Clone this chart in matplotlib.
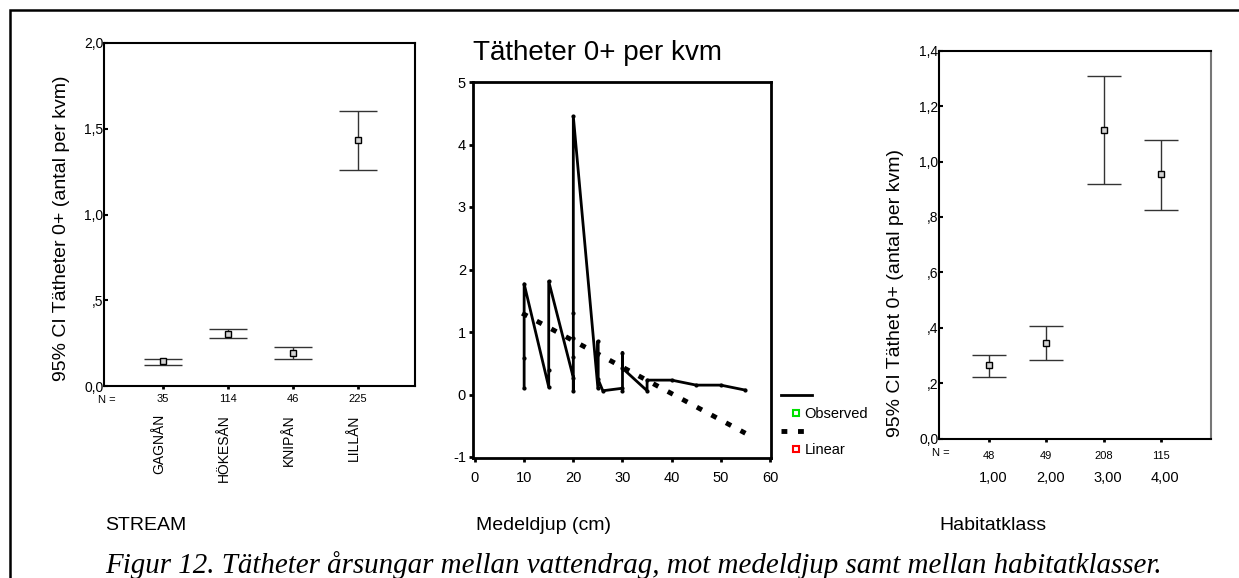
import matplotlib
matplotlib.use("Agg")
import matplotlib.pyplot as plt
import matplotlib.transforms as mtransforms
from matplotlib.lines import Line2D
from matplotlib.patches import Rectangle

plt.rcParams["font.family"] = ["Liberation Sans", "DejaVu Sans"]
plt.rcParams["axes.unicode_minus"] = False

W, H = 1239, 578

# left panel: 95% CI per stream
STREAMS = ["GAGNÅN", "HÖKESÅN", "KNIPÅN", "LILLÅN"]
STREAM_N = [35, 114, 46, 225]
STREAM_MEAN = [0.145, 0.303, 0.194, 1.434]
STREAM_LO = [0.125, 0.278, 0.159, 1.261]
STREAM_HI = [0.160, 0.332, 0.227, 1.605]
STREAM_YTICKS = [0.0, 0.5, 1.0, 1.5, 2.0]
STREAM_YLABELS = ["0,0", ",5", "1,0", "1,5", "2,0"]

# middle panel: observed density vs mean depth, with linear fit
DEPTH_OBS = [10, 10, 10, 15, 15, 15, 20, 20, 20, 20, 20, 20,
             25, 25, 25, 26, 30, 30, 30, 30, 35, 35, 40, 45, 50, 55]
DENS_OBS = [0.10, 0.58, 1.77, 0.12, 0.40, 1.81, 0.27, 0.05, 0.60, 0.90, 1.30, 4.45,
            0.10, 0.85, 0.25, 0.06, 0.10, 0.05, 0.67, 0.42, 0.06, 0.23, 0.23, 0.15, 0.15, 0.07]
DEPTH_LIN = [9.6, 55]
DENS_LIN = [1.30, -0.62]
DEPTH_TICKS = [0, 10, 20, 30, 40, 50, 60]
DENS_TICKS = [-1, 0, 1, 2, 3, 4, 5]

# right panel: 95% CI per habitat class
HABITAT = ["1,00", "2,00", "3,00", "4,00"]
HAB_N = [48, 49, 208, 115]
HAB_MEAN = [0.266, 0.345, 1.113, 0.955]
HAB_LO = [0.224, 0.285, 0.920, 0.826]
HAB_HI = [0.303, 0.408, 1.309, 1.077]
HAB_YTICKS = [0.0, 0.2, 0.4, 0.6, 0.8, 1.0, 1.2, 1.4]
HAB_YLABELS = ["0,0", ",2", ",4", ",6", ",8", "1,0", "1,2", "1,4"]


def box(x0, y0, x1, y1):
    """pixel box (top-left origin) -> figure fraction rect"""
    return [x0 / W, 1 - y1 / H, (x1 - x0) / W, (y1 - y0) / H]


def fx(x):
    return x / W


def fy(y):
    return 1 - y / H


def ci_panel(ax, means, lo, hi, capsize):
    pos = list(range(1, len(means) + 1))
    err = [[m - l for m, l in zip(means, lo)], [h - m for m, h in zip(means, hi)]]
    ax.errorbar(pos, means, yerr=err, fmt="s", ms=5, mfc="#d4d4d4", mec="black",
                mew=1.0, ecolor="#333333", elinewidth=1.0, capsize=capsize,
                capthick=1.6, zorder=3)
    for s in ax.spines.values():
        s.set_linewidth(1.5)
    ax.tick_params(axis="y", direction="in", length=3, width=1.5, pad=0.5, labelsize=10)
    ax.tick_params(axis="x", direction="out", length=2, width=2, pad=4, labelsize=8)


fig = plt.figure(figsize=(W / 100, H / 100), dpi=100)

# ---- left panel
ax1 = fig.add_axes(box(104, 43, 414.5, 386))
ci_panel(ax1, STREAM_MEAN, STREAM_LO, STREAM_HI, 13.7)
ax1.set_xlim(0.09, 4.87)
ax1.set_ylim(0, 2.0)
ax1.set_yticks(STREAM_YTICKS)
ax1.set_yticklabels(STREAM_YLABELS)
ax1.set_xticks(range(1, 5))
ax1.set_xticklabels([str(n) for n in STREAM_N])
tr1 = mtransforms.blended_transform_factory(ax1.transData, ax1.transAxes)
for i, name in enumerate(STREAMS):
    ax1.text(i + 1 - 0.06, -0.082, name, rotation=90, ha="center", va="top",
             fontsize=10, transform=tr1)
fig.text(fx(98), fy(400), "N =", fontsize=8, va="center")
fig.text(fx(62), fy(228), "95% CI Tätheter 0+ (antal per kvm)", rotation=90,
         ha="center", va="center", fontsize=14)
fig.text(fx(105), fy(530), "STREAM", fontsize=14, va="baseline")

# ---- middle panel
ax2 = fig.add_axes(box(473, 82, 771, 458))
ax2.plot(DEPTH_OBS, DENS_OBS, color="black", lw=2, marker="o", ms=2, zorder=3)
ax2.plot(DEPTH_LIN, DENS_LIN, color="black", lw=3.5, ls=(0, (1.2, 2.2)),
         dash_capstyle="butt", zorder=2)
ax2.set_xlim(-0.4, 60.2)
ax2.set_ylim(-1.016, 5)
ax2.set_xticks(DEPTH_TICKS)
ax2.set_yticks(DENS_TICKS)
for s in ax2.spines.values():
    s.set_linewidth(2)
ax2.tick_params(axis="both", direction="out", length=3, width=2, labelsize=10.5)
ax2.tick_params(axis="x", pad=6)
ax2.tick_params(axis="y", pad=2)
fig.text(fx(473), fy(60), "Tätheter 0+ per kvm", fontsize=20, va="baseline")
fig.text(fx(476), fy(530), "Medeldjup (cm)", fontsize=14, va="baseline")

handles = [
    Line2D([], [], color="black", lw=2),
    Line2D([], [], ls="none", marker="s", ms=4, mfc="white", mec="#00e000", mew=1.5),
    Line2D([], [], color="black", lw=3.5, ls=(0, (1.2, 2.2))),
    Line2D([], [], ls="none", marker="s", ms=4, mfc="white", mec="red", mew=1.5),
]
fig.legend(handles, ["", "Observed", "", "Linear"], loc="upper left",
           bbox_to_anchor=(fx(781), fy(389)), bbox_transform=fig.transFigure,
           frameon=False, fontsize=10.5, handlelength=2.1, handletextpad=-0.5,
           labelspacing=0.28, borderpad=0, borderaxespad=0, numpoints=1)

# ---- right panel
ax3 = fig.add_axes(box(939, 50.7, 1210.7, 438.7))
ci_panel(ax3, HAB_MEAN, HAB_LO, HAB_HI, 12.2)
ax3.spines["right"].set_color("#777777")
ax3.set_xlim(0.13, 4.87)
ax3.set_ylim(0, 1.4)
ax3.set_yticks(HAB_YTICKS)
ax3.set_yticklabels(HAB_YLABELS)
ax3.set_xticks(range(1, 5))
ax3.set_xticklabels([str(n) for n in HAB_N])
ax3.tick_params(axis="x", pad=7)
tr3 = mtransforms.blended_transform_factory(ax3.transData, ax3.transAxes)
for i, lab in enumerate(HABITAT):
    ax3.text(i + 1 + 0.07, -0.10, lab, ha="center", va="center", fontsize=10.5,
             transform=tr3)
fig.text(fx(932), fy(453), "N =", fontsize=8, va="center")
fig.text(fx(896), fy(293), "95% CI Täthet 0+ (antal per kvm)", rotation=90,
         ha="center", va="center", fontsize=14)
fig.text(fx(939), fy(530), "Habitatklass", fontsize=14, va="baseline")

# outer frame (left + top edge visible) and caption
fig.add_artist(Rectangle((fx(10), -0.2), 2.0, fy(10) + 0.2, transform=fig.transFigure,
                         fill=False, lw=1.8, color="black"))
fig.text(fx(633), fy(573),
         "Figur 12. Tätheter årsungar mellan vattendrag, mot medeldjup samt mellan habitatklasser.",
         family=["Liberation Serif", "DejaVu Serif"], style="italic", fontsize=20.9,
         ha="center", va="baseline")

fig.savefig("out.png", dpi=100)
